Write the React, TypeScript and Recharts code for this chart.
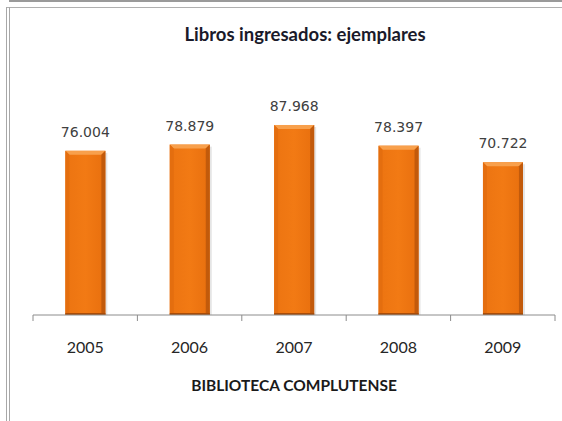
import React from 'react'
import { Bar, BarChart, LabelList, XAxis } from 'recharts'

const years = ['2005', '2006', '2007', '2008', '2009']
const ejemplares = [76004, 78879, 87968, 78397, 70722]

const data = years.map((year, i) => ({ year, value: ejemplares[i] }))

const TICK_SIZE = 6
const TICK_MARGIN = 21

const formatThousands = (v: any) => {
  const s = String(v)
  return s.replace(/\B(?=(\d{3})+(?!\d))/g, '.')
}

// year label plus the small boundary ticks between categories
const YearTick = (props: any) => {
  const { x, y, payload, index, width, visibleTicksCount } = props
  const step = width / visibleTicksCount
  const axisY = y - TICK_SIZE - TICK_MARGIN
  const left = x - step / 2
  const right = x + step / 2
  return (
    <g>
      <line x1={left} x2={left} y1={axisY} y2={axisY + TICK_SIZE} stroke="#8c8c8c" />
      {index === visibleTicksCount - 1 && (
        <line x1={right} x2={right} y1={axisY} y2={axisY + TICK_SIZE} stroke="#8c8c8c" />
      )}
      <text
        x={x}
        y={y}
        dy="0.71em"
        textAnchor="middle"
        fontFamily="Lato, sans-serif"
        fontSize={16}
        fill="#262626"
      >
        {payload.value}
      </text>
    </g>
  )
}

const BevelBar = (props: any) => {
  const { x, y, width, height } = props
  if (!height || height <= 0) return null
  const b = 4
  return (
    <g>
      <rect x={x + 2} y={y + 2} width={width} height={height - 2} fill="#000" opacity={0.1} />
      <rect x={x} y={y} width={width} height={height} fill="url(#barBody)" />
      <polygon
        points={`${x},${y} ${x + width},${y} ${x + width - b},${y + b} ${x + b},${y + b}`}
        fill="#F8A04C"
      />
      <polygon
        points={`${x},${y} ${x + b},${y + b} ${x + b},${y + height} ${x},${y + height}`}
        fill="#E46E0F"
      />
      <polygon
        points={`${x + width},${y} ${x + width - b},${y + b} ${x + width - b},${y + height} ${x + width},${y + height}`}
        fill="#C25A0B"
      />
      <rect x={x} y={y + height - 2} width={width} height={2} fill="#A84C08" />
    </g>
  )
}

export default function App() {
  return (
    <div
      style={{
        position: 'absolute',
        left: 0,
        top: 0,
        width: 562,
        height: 421,
        background: '#fff',
        overflow: 'hidden',
      }}
    >
      {/* frame lines */}
      <div style={{ position: 'absolute', left: 9, top: 0, width: 553, height: 2, background: '#9a9a9a' }} />
      <div style={{ position: 'absolute', left: 6, top: 7, width: 556, height: 1, background: '#b0b0b0' }} />
      <div style={{ position: 'absolute', left: 6, top: 7, width: 1, height: 414, background: '#a8a8a8' }} />
      <div style={{ position: 'absolute', left: 9, top: 7, width: 1, height: 414, background: '#a8a8a8' }} />

      <div
        style={{
          position: 'absolute',
          left: 0,
          width: 610,
          top: 23,
          textAlign: 'center',
          fontFamily: 'Lato, sans-serif',
          fontWeight: 'bold',
          fontSize: 18.5,
          color: '#1a1a2a',
          whiteSpace: 'nowrap',
        }}
      >
        Libros ingresados: ejemplares
      </div>

      <div
        style={{
          position: 'absolute',
          left: 33,
          width: 522,
          top: 376,
          textAlign: 'center',
          fontFamily: 'Lato, sans-serif',
          fontWeight: 'bold',
          fontSize: 15.5,
          color: '#1a1a1a',
          whiteSpace: 'nowrap',
        }}
      >
        BIBLIOTECA COMPLUTENSE
      </div>

      <div style={{ position: 'absolute', left: 0, top: 0 }}>
        <BarChart
          width={562}
          height={421}
          data={data}
          margin={{ top: 99, right: 7, left: 33, bottom: 70 }}
          barCategoryGap="31%"
        >
          <defs>
            <linearGradient id="barBody" x1="0" y1="0" x2="1" y2="0">
              <stop offset="0%" stopColor="#EC7411" />
              <stop offset="50%" stopColor="#F27A14" />
              <stop offset="100%" stopColor="#E86F0E" />
            </linearGradient>
          </defs>
          <XAxis
            dataKey="year"
            axisLine={{ stroke: '#8c8c8c' }}
            tickLine={false}
            height={36}
            tickSize={TICK_SIZE}
            tickMargin={TICK_MARGIN}
            tick={YearTick}
            interval={0}
          />
          <Bar dataKey="value" shape={BevelBar} isAnimationActive={false}>
            <LabelList
              dataKey="value"
              position="top"
              offset={14}
              formatter={formatThousands}
              style={{ fontFamily: 'DejaVu Sans, sans-serif', fontSize: 14, fill: '#404040' }}
            />
          </Bar>
        </BarChart>
      </div>
    </div>
  )
}
